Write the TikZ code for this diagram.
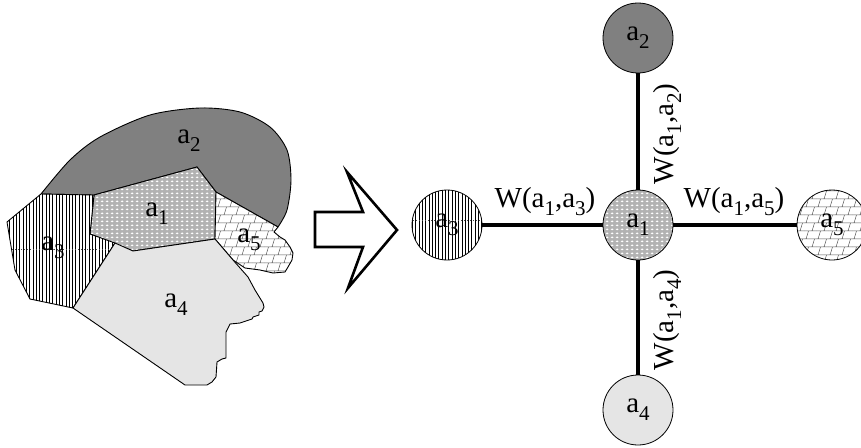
\documentclass[tikz,border=0pt]{standalone}
\usepackage{fontspec}
\setmainfont{Liberation Serif}
\usetikzlibrary{patterns}

% fill textures
\pgfdeclarepatternformonly{vstripes}{\pgfqpoint{-1pt}{-1pt}}{\pgfqpoint{1pt}{4pt}}{\pgfqpoint{3.3pt}{3pt}}{%
  \pgfsetlinewidth{0.9pt}%
  \pgfpathmoveto{\pgfqpoint{0pt}{-0.5pt}}\pgfpathlineto{\pgfqpoint{0pt}{3.5pt}}\pgfusepath{stroke}}
\pgfdeclarepatternformonly{weave}{\pgfqpoint{0pt}{0pt}}{\pgfqpoint{5pt}{4pt}}{\pgfqpoint{5pt}{4pt}}{%
  \pgfpathellipse{\pgfqpoint{2.5pt}{2pt}}{\pgfqpoint{1.7pt}{0pt}}{\pgfqpoint{0pt}{1.1pt}}\pgfusepath{fill}}
\pgfdeclarepatternformonly{slantbricks}{\pgfqpoint{-1pt}{-1pt}}{\pgfqpoint{13pt}{17pt}}{\pgfqpoint{12pt}{16pt}}{%
  \pgfsetlinewidth{0.5pt}%
  \pgfpathmoveto{\pgfqpoint{0pt}{0pt}}\pgfpathlineto{\pgfqpoint{12pt}{0pt}}%
  \pgfpathmoveto{\pgfqpoint{0pt}{8pt}}\pgfpathlineto{\pgfqpoint{12pt}{8pt}}%
  \pgfpathmoveto{\pgfqpoint{2pt}{0pt}}\pgfpathlineto{\pgfqpoint{4.5pt}{8pt}}%
  \pgfpathmoveto{\pgfqpoint{8pt}{8pt}}\pgfpathlineto{\pgfqpoint{10.5pt}{16pt}}%
  \pgfusepath{stroke}}

\newcommand\subx[1]{\raisebox{-8pt}{\fontsize{21}{21}\selectfont #1}}

\tikzset{
  region/.style={draw=black, line width=0.9pt, line join=round},
  darkfill/.style={fill=black!50},
  lightfill/.style={fill=black!10},
  weavefill/.style={preaction={fill=black!30}, pattern=weave, pattern color=white},
  stripefill/.style={preaction={fill=white}, pattern=vstripes, pattern color=black},
  brickfill/.style={preaction={fill=white}, pattern=slantbricks, pattern color=black!65},
  lbl/.style={inner sep=0pt, anchor=base, font=\fontsize{29}{31}\selectfont},
  vertex/.style={circle, draw=black, line width=0.8pt, minimum size=70pt, inner sep=0pt,
    font=\fontsize{29}{31}\selectfont},
  link/.style={draw=black, line width=3.2pt},
  bigarrow/.style={draw=black, line width=2.6pt, line join=miter},
  seam/.style={draw=black!70, line width=0.5pt, dash pattern=on 1pt off 2pt},
}

\begin{document}
\begin{tikzpicture}[x=1pt, y=-1pt]
\useasboundingbox (0,0) rectangle (861,447);

% ---- map of the regions ----
% a2
\path[region, darkfill] plot[smooth] coordinates {(41,194) (70,160) (100,137) (150,115) (200,108) (240,112) (270,127) (287,150) (291,180) (287,210) (278,227)}
  -- (216,192) -- (197,167) -- (94,195) -- cycle;
% a1
\path[region, weavefill] (94,195) -- (197,167) -- (216,192) -- (215,239) -- (133,251) -- (90,234) -- cycle;
% a3
\path[region, stripefill] (41,194) -- (94,195) -- (90,234) -- (115,243) -- (73,308) -- (30,299) -- (15,270) -- (7,222) -- cycle;
\begin{scope}
  \clip (41,194) -- (94,195) -- (90,234) -- (115,243) -- (73,308) -- (30,299) -- (15,270) -- (7,222) -- cycle;
  \draw[seam] (0,249) -- (120,249);
\end{scope}
% a5
\path[region, brickfill] (216,192) -- (278,227) -- (274,232) -- (280,237) -- (285,240) -- (290,247) -- (293,253) -- (292,260)
  -- (288,267) -- (285,272) -- (273,273) -- (260,270) -- (245,268) -- (233,260) -- (215,239) -- cycle;
% a4
\path[region, lightfill] (73,308) -- (115,243) -- (133,251) -- (215,239) -- (233,260) -- (248,277) -- (255,290) -- (263,303)
  -- (264,307) -- (262,311) -- (259,312) -- (259,315) -- (253,317) -- (252,319) -- (240,323) -- (230,324) -- (226,332)
  -- (226,358) -- (222,359) -- (217,362) -- (216,377) -- (212,382) -- (207,385) -- (185,385) -- cycle;

\node[lbl] (ra2) at (189,143) {a\subx{2}};
\node[lbl] (ra1) at (157,216) {a\subx{1}};
\node[lbl] (ra3) at (53,250) {a\subx{3}};
\node[lbl] (ra5) at (249,242) {a\subx{5}};
\node[lbl] (ra4) at (176,307) {a\subx{4}};

% ---- hollow arrow ----
\draw[bigarrow] (315,212) -- (363,212) -- (347,172) -- (397,230) -- (348,288) -- (363,247) -- (315,247) -- cycle;

% ---- neighbourhood graph ----
\node[vertex, weavefill] (n1) at (638,225) {a\subx{1}};
\node[vertex, darkfill] (n2) at (638,38) {a\subx{2}};
\node[vertex, stripefill] (n3) at (447,225) {a\subx{3}};
\node[vertex, lightfill] (n4) at (638,410) {a\subx{4}};
\node[vertex, brickfill] (n5) at (832,225) {a\subx{5}};

\begin{scope}
  \clip (447,225) circle (35);
  \draw[seam] (410,220) -- (485,220);
\end{scope}

\draw[link] (n1) -- (n2);
\draw[link] (n1) -- (n3);
\draw[link] (n1) -- (n4);
\draw[link] (n1) -- (n5);

\node[lbl] (w13) at (545,207) {W(a\subx{1},a\subx{3})};
\node[lbl] (w15) at (734,207) {W(a\subx{1},a\subx{5})};
\node[lbl, rotate=90] (w12) at (673,134) {W(a\subx{1},a\subx{2})};
\node[lbl, rotate=90] (w14) at (673,320) {W(a\subx{1},a\subx{4})};
\end{tikzpicture}
\end{document}
